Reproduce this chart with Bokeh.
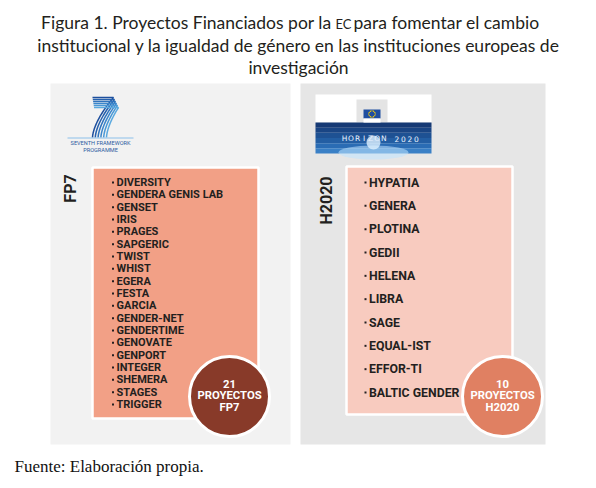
import numpy as np
from bokeh.plotting import figure
from bokeh.models import Range1d
from bokeh.core.properties import value
from bokeh.embed import file_html
from bokeh.resources import INLINE

# ---------------- data ----------------
title_left = "Figura 1. Proyectos Financiados por la"
title_small = "EC"
title_rest = "para fomentar el cambio"
title_lines = ["institucional y la igualdad de género en las instituciones europeas de",
               "investigación"]
programmes = ["FP7", "H2020"]
fp7_projects = ["DIVERSITY", "GENDERA GENIS LAB", "GENSET", "IRIS", "PRAGES", "SAPGERIC",
                "TWIST", "WHIST", "EGERA", "FESTA", "GARCIA", "GENDER-NET", "GENDERTIME",
                "GENOVATE", "GENPORT", "INTEGER", "SHEMERA", "STAGES", "TRIGGER"]
h2020_projects = ["HYPATIA", "GENERA", "PLOTINA", "GEDII", "HELENA", "LIBRA", "SAGE",
                  "EQUAL-IST", "EFFOR-TI", "BALTIC GENDER"]
project_counts = [21, 10]
count_label = "PROYECTOS"
fp7_logo_text = ["SEVENTH FRAMEWORK", "PROGRAMME"]
h2020_logo_text = "HORIZON 2020"
source = "Fuente: Elaboración propia."

W, H = 596, 488
TFONT = "Lato"
IFONT = "Roboto"
DARK = "#231f20"


def Y(py):
    return H - np.asarray(py, dtype=float)


p = figure(width=W, height=H, x_range=Range1d(0, W), y_range=Range1d(0, H),
           output_backend="svg", toolbar_location=None, min_border=0)
p.axis.visible = False
p.grid.visible = False
p.outline_line_color = None
p.background_fill_color = "white"
p.border_fill_color = "white"

# ---------------- title ----------------
TS = "17.5px"
p.text(x=[331], y=Y([22]), text=[title_left], text_align="right", text_baseline="middle",
       text_font=value(TFONT), text_font_size=TS, text_color=DARK)
p.text(x=[335], y=Y([23]), text=[title_small], text_align="left", text_baseline="middle",
       text_font=value(TFONT), text_font_size="13px", text_color=DARK)
p.text(x=[353], y=Y([22]), text=[title_rest], text_align="left", text_baseline="middle",
       text_font=value(TFONT), text_font_size=TS, text_color=DARK)
p.text(x=[298, 298], y=Y([45, 67]), text=title_lines, text_align="center",
       text_baseline="middle", text_font=value(TFONT), text_font_size=TS, text_color=DARK)

# ---------------- panels ----------------
p.quad(left=[50, 300], right=[290, 545], top=Y([83, 83]), bottom=Y([444, 444]),
       fill_color=["#f2f2f2", "#e6e6e6"], line_color=None)

# list boxes
p.quad(left=[92, 346], right=[258, 512], top=Y([167, 166]), bottom=Y([418, 414]),
       fill_color=["#f2a086", "#f8cbbf"], line_color="white", line_width=2.5)

# programme labels (vertical)
p.text(x=[70, 326], y=Y([188, 200]), text=programmes, angle=np.pi / 2,
       text_align="center", text_baseline="middle", text_font=value(IFONT),
       text_font_style="bold", text_font_size="16px", text_color=DARK)

# FP7 items
n1 = len(fp7_projects)
y1 = 182 + np.arange(n1) * (404 - 182) / (n1 - 1)
p.scatter(x=[112.5] * n1, y=Y(y1), marker="square", size=2, fill_color=DARK, line_color=None)
p.text(x=[116] * n1, y=Y(y1), text=fp7_projects, text_align="left", text_baseline="middle",
       text_font=value(IFONT), text_font_style="bold", text_font_size="11px", text_color=DARK)

# H2020 items
n2 = len(h2020_projects)
y2 = 182 + np.arange(n2) * (392 - 182) / (n2 - 1)
p.scatter(x=[365] * n2, y=Y(y2), marker="square", size=2, fill_color=DARK, line_color=None)
p.text(x=[368.5] * n2, y=Y(y2), text=h2020_projects, text_align="left", text_baseline="middle",
       text_font=value(IFONT), text_font_style="bold", text_font_size="12.3px", text_color=DARK)

# count circles
cx = [229, 502]
cy = Y([396, 396])
p.circle(x=cx, y=cy, radius=40, fill_color=["#883a29", "#e08062"], line_color="white",
         line_width=3)
for i, n in enumerate(project_counts):
    p.text(x=[cx[i]] * 3, y=Y([383, 395, 407]),
           text=[str(n), count_label, programmes[i]], text_align="center",
           text_baseline="middle", text_font=value(IFONT), text_font_style="bold",
           text_font_size="11.3px", text_color="white")

# ---------------- FP7 logo ----------------
stripe_cols = ["#1d4f9e", "#2560ad", "#2f73bd", "#3b86cb", "#4a98d6", "#5aa9df"]
xs, ys = [], []
for i in range(6):
    top = 97 + i * 2.0
    t = np.linspace(0, 1, 20)
    x0, x1 = 113 + i * 1.0, 92 + i * 2.8
    x_curve = x0 - (x0 - x1) * (1 - (1 - t) ** 1.6)
    y_curve = top + (137 - top) * t
    xs.append(list(np.r_[92 + i * 0.3, x_curve]))
    ys.append(list(Y(np.r_[top, y_curve])))
p.multi_line(xs=xs, ys=ys, line_color=stripe_cols, line_width=1.5)
p.segment(x0=[67], y0=Y([137.5]), x1=[133], y1=Y([137.5]), line_color="#8cc0ea", line_width=1)
p.text(x=[100, 100], y=Y([142.5, 149]), text=fp7_logo_text, text_align="center",
       text_baseline="middle", text_font=value(IFONT),
       text_font_size="5.6px", text_color="#2a5aa0")

# ---------------- Horizon 2020 logo ----------------
p.quad(left=[315], right=[431], top=Y([94]), bottom=Y([122]), fill_color="white", line_color=None)
p.quad(left=[356], right=[387], top=Y([99]), bottom=Y([122]), fill_color="#e4e4e4", line_color=None)
band_cols = ["#163a75", "#1a4584", "#1e5193", "#235ea3", "#2a6cb4", "#3a80c6"]
nb = len(band_cols)
edges = 122 + np.arange(nb + 1) * (153 - 122) / nb
p.quad(left=[315] * nb, right=[431] * nb, top=Y(edges[:-1]), bottom=Y(edges[1:]),
       fill_color=band_cols, line_color=None)
p.ellipse(x=[373], y=Y([152]), width=70, height=14, fill_color="#bfe3ff", fill_alpha=0.55,
          line_color=None)
p.ellipse(x=[373], y=Y([142]), width=14, height=14, fill_color="#dff1ff", fill_alpha=0.8,
          line_color=None)
p.quad(left=[363], right=[380], top=Y([109]), bottom=Y([118]), fill_color="#1f4ea0", line_color=None)
p.quad(left=[363], right=[380], top=Y([118]), bottom=Y([122]), fill_color="white", line_color=None)
ang = np.linspace(0, 2 * np.pi, 13)[:-1]
p.scatter(x=371.5 + 3.2 * np.cos(ang), y=Y(113.5) + 3.2 * np.sin(ang), marker="circle", size=1.3,
          fill_color="#ffd200", line_color=None)
chars = list(h2020_logo_text)
cxs = 344 + np.arange(len(chars)) * (416 - 344) / (len(chars) - 1)
p.text(x=cxs, y=Y([138] * len(chars)), text=chars, text_align="center", text_baseline="middle",
       text_font=value("DejaVu Sans"), text_font_size="7.5px", text_color="#e8f2ff")

# ---------------- source ----------------
p.text(x=[14], y=Y([466]), text=[source], text_align="left", text_baseline="middle",
       text_font=value("Liberation Serif"), text_font_size="17px", text_color="#111111")

open("out.html", "w").write(file_html(p, INLINE))
